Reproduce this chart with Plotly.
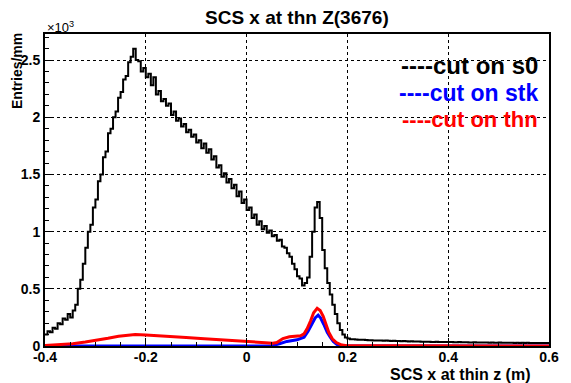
import plotly.graph_objects as go

# ---------------- data ----------------
# black histogram ("cut on s0"), bin left edges from -0.400 step 0.005 (values in 10^3 entries/mm)
s0_start = -0.400
s0_step = 0.005
s0_vals = [
    0.10, 0.13, 0.12, 0.16, 0.15, 0.20, 0.19, 0.24, 0.23, 0.28,
    0.25, 0.31, 0.36, 0.50, 0.58, 0.72, 0.86, 1.00, 1.06, 1.21,
    1.28, 1.44, 1.50, 1.65, 1.70, 1.86, 1.90, 2.00, 2.05, 2.17,
    2.22, 2.33, 2.36, 2.48, 2.53, 2.60, 2.50, 2.49, 2.40, 2.43,
    2.35, 2.38, 2.28, 2.35, 2.20, 2.23, 2.14, 2.16, 2.10, 2.12,
    2.02, 2.05, 1.97, 1.99, 1.92, 1.94, 1.87, 1.89, 1.83, 1.85,
    1.78, 1.80, 1.73, 1.77, 1.69, 1.72, 1.63, 1.66, 1.56, 1.58,
    1.48, 1.51, 1.43, 1.46, 1.38, 1.41, 1.31, 1.35, 1.25, 1.28,
    1.19, 1.21, 1.12, 1.15, 1.06, 1.09, 1.02, 1.05, 0.99, 1.01,
    0.96, 0.97, 0.92, 0.93, 0.87, 0.86, 0.81, 0.78, 0.72, 0.67,
    0.61, 0.59, 0.53, 0.55, 0.60, 0.78, 1.00, 1.21, 1.26, 1.12,
    0.84, 0.68, 0.55, 0.45, 0.36, 0.28, 0.20, 0.14, 0.10, 0.075,
    0.065, 0.060, 0.058, 0.057, 0.055, 0.054, 0.055, 0.052, 0.050, 0.051,
    0.049, 0.048, 0.049, 0.047, 0.046, 0.047, 0.045, 0.044, 0.045, 0.043,
    0.043, 0.042, 0.043, 0.041, 0.040, 0.041, 0.040, 0.039, 0.040, 0.038,
    0.038, 0.037, 0.038, 0.036, 0.036, 0.037, 0.035, 0.035, 0.036, 0.034,
    0.034, 0.035, 0.033, 0.033, 0.034, 0.032, 0.032, 0.033, 0.031, 0.031,
    0.032, 0.030, 0.031, 0.030, 0.030, 0.031, 0.029, 0.030, 0.029, 0.029,
    0.030, 0.028, 0.029, 0.028, 0.028, 0.029, 0.027, 0.028, 0.027, 0.028,
    0.027, 0.028, 0.027, 0.026, 0.027, 0.027, 0.026, 0.027, 0.026, 0.027,
]
s0_x = [round(s0_start + i * s0_step, 4) for i in range(len(s0_vals))]

# blue ("cut on stk")
stk_x = [-0.400, 0.050, 0.065, 0.080, 0.100, 0.114, 0.122, 0.130, 0.136, 0.142,
         0.147, 0.153, 0.160, 0.166, 0.172, 0.179, 0.190, 0.600]
stk_y = [0.000, 0.000, 0.020, 0.040, 0.054, 0.077, 0.130, 0.190, 0.245, 0.270,
         0.245, 0.190, 0.120, 0.077, 0.040, 0.013, 0.000, 0.000]

# red ("cut on thn")
thn_x = [-0.400, -0.370, -0.345, -0.320, -0.300, -0.275, -0.254, -0.235, -0.221, -0.200,
         -0.175, -0.149, -0.120, -0.084, -0.050, -0.020, 0.000, 0.030, 0.052, 0.060,
         0.072, 0.085, 0.098, 0.107, 0.114, 0.120, 0.127, 0.133, 0.140, 0.146,
         0.152, 0.157, 0.163, 0.170, 0.178, 0.189, 0.200, 0.300, 0.600]
thn_y = [0.005, 0.010, 0.020, 0.035, 0.048, 0.068, 0.086, 0.097, 0.100, 0.097,
         0.092, 0.086, 0.075, 0.063, 0.055, 0.048, 0.042, 0.034, 0.025, 0.030,
         0.065, 0.080, 0.083, 0.090, 0.107, 0.150, 0.220, 0.290, 0.330, 0.310,
         0.260, 0.190, 0.120, 0.063, 0.030, 0.008, 0.003, 0.002, 0.000]

x_tickvals = [-0.4, -0.2, 0.0, 0.2, 0.4, 0.6]
x_ticktext = ["-0.4", "-0.2", "0", "0.2", "0.4", "0.6"]
y_tickvals = [0, 0.5, 1, 1.5, 2, 2.5]
y_ticktext = ["0", "0.5", "1", "1.5", "2", "2.5"]

legend_labels = ["----cut on s0", "----cut on stk", "----cut on thn"]
colors = ["black", "blue", "red"]

# ---------------- figure ----------------
FONT = "Liberation Sans, Arial, Helvetica, sans-serif"

fig = go.Figure()
fig.add_trace(go.Scatter(x=s0_x + [0.6], y=s0_vals + [s0_vals[-1]], mode="lines",
                         line=dict(color="black", width=2, shape="hv"), showlegend=False))
fig.add_trace(go.Scatter(x=stk_x, y=stk_y, mode="lines",
                         line=dict(color="blue", width=3), showlegend=False))
fig.add_trace(go.Scatter(x=thn_x, y=thn_y, mode="lines",
                         line=dict(color="red", width=3), showlegend=False))

axis_common = dict(
    showline=True, linecolor="black", linewidth=2, mirror=True,
    ticks="inside", tickcolor="black", ticklen=8, tickwidth=1,
    showgrid=True, gridcolor="black", gridwidth=1, griddash="dot",
    zeroline=False,
    tickfont=dict(family=FONT, size=14, color="black", weight="bold"),
)

fig.update_xaxes(range=[-0.4, 0.6], tickmode="array", tickvals=x_tickvals, ticktext=x_ticktext,
                 ticklabelstandoff=-3,
                 minor=dict(dtick=0.05, ticks="inside", ticklen=4, tickcolor="black", showgrid=False),
                 **axis_common)
fig.update_yaxes(range=[0, 2.728], tickmode="array", tickvals=y_tickvals, ticktext=y_ticktext,
                 minor=dict(dtick=0.1, ticks="inside", ticklen=4, tickcolor="black", showgrid=False),
                 **axis_common)

annotations = [
    dict(text="SCS x at thn Z(3676)", xref="paper", yref="paper", x=0.5, y=1.0, yshift=17,
         xanchor="center", yanchor="middle", showarrow=False,
         font=dict(family=FONT, size=19, color="black", weight="bold")),
    dict(text="SCS x at thin z (m)", xref="paper", yref="paper", x=(540 - 45) / 512, y=0, yshift=-28,
         xanchor="right", yanchor="middle", showarrow=False,
         font=dict(family=FONT, size=16, color="black", weight="bold")),
    dict(text="Entries/mm", xref="paper", yref="paper", x=0, xshift=-28, y=1.0, yshift=-37,
         xanchor="center", yanchor="middle", textangle=-90, showarrow=False,
         font=dict(family=FONT, size=14, color="black", weight="bold")),
    dict(text="×10<sup>3</sup>", xref="paper", yref="paper", x=0, y=1.0, yshift=7,
         xanchor="left", yanchor="middle", showarrow=False,
         font=dict(family=FONT, size=13, color="black")),
]
leg_y_px = [65, 93, 119]
leg_sizes = [24, 23, 22]
for lab, col, py, fs in zip(legend_labels, colors, leg_y_px, leg_sizes):
    annotations.append(dict(text=lab, xref="paper", yref="paper",
                            x=(548 - 45) / 512, y=(346 - py) / 312,
                            xanchor="right", yanchor="middle", showarrow=False,
                            font=dict(family=FONT, size=fs, color=col, weight="bold")))

fig.update_layout(
    width=571, height=383,
    margin=dict(l=45, r=14, t=34, b=37),
    paper_bgcolor="white", plot_bgcolor="white",
    annotations=annotations,
    showlegend=False,
)

fig.write_html("out.html")
